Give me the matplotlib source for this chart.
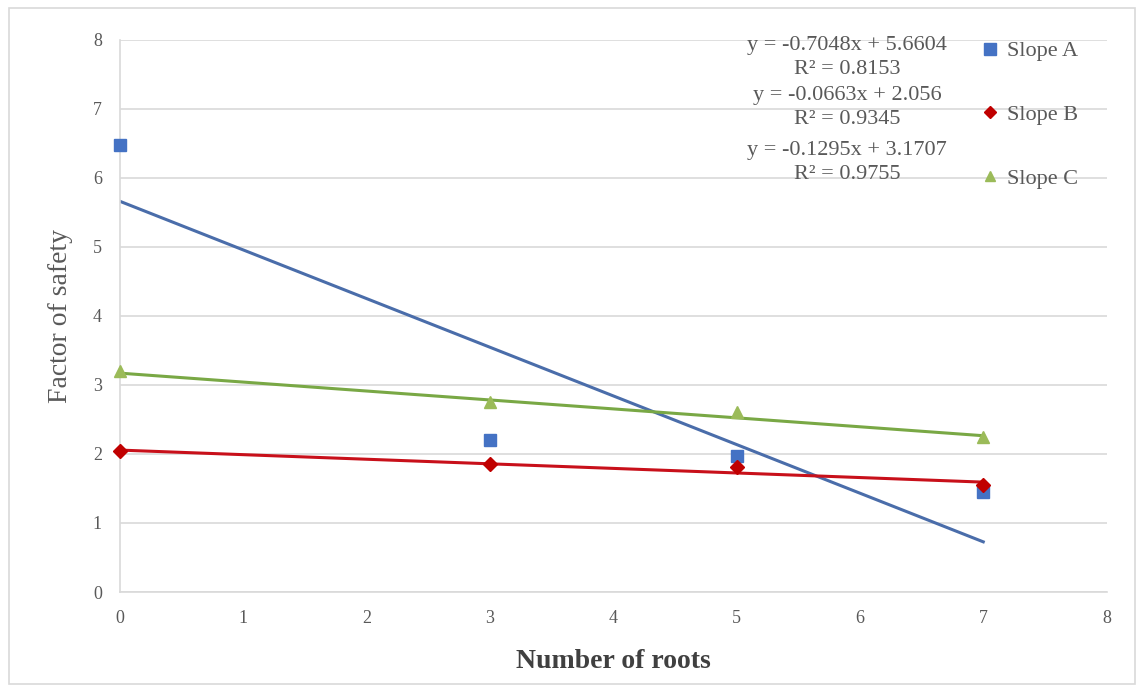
import numpy as np
import matplotlib.pyplot as plt

# Factor of safety vs number of roots, three slopes with linear trendlines

roots = [0, 3, 5, 7]
slope_a = [6.48, 2.20, 1.97, 1.45]
slope_b = [2.05, 1.85, 1.81, 1.55]
slope_c = [3.20, 2.75, 2.61, 2.24]

names = ["Slope A", "Slope B", "Slope C"]
fit_m = [-0.7048, -0.0663, -0.1295]
fit_b = [5.6604, 2.056, 3.1707]
fit_r2 = [0.8153, 0.9345, 0.9755]

marker_colors = ["#4472C4", "#C00000", "#9BBB59"]
line_colors = ["#4A6DAA", "#C8101A", "#79A845"]
markers = ["s", "D", "^"]
msizes = [9, 7, 8]

serif = ["Liberation Serif", "DejaVu Serif"]
plt.rcParams["font.family"] = serif

fig = plt.figure(figsize=(11.42, 6.92), dpi=100)
ax = fig.add_axes([0.105, 0.1445, 0.864, 0.798])

# outer chart frame
fig.patches.append(plt.Rectangle((0.008, 0.012), 0.986, 0.976, transform=fig.transFigure,
                                 fill=False, edgecolor="#D9D9D9", linewidth=1.2))

handles = []
for ys, c, lc, mk, ms, m, b, name in zip([slope_a, slope_b, slope_c], marker_colors, line_colors,
                                         markers, msizes, fit_m, fit_b, names):
    xs = np.array([roots[0], roots[-1]])
    ax.plot(xs, m * xs + b, color=lc, linewidth=2.2, zorder=2)
    h, = ax.plot(roots, ys, linestyle="none", marker=mk, markersize=ms, color=c,
                 markeredgecolor=c, zorder=3, label=name, clip_on=False)
    handles.append(h)

ax.set_xlim(0, 8)
ax.set_ylim(0, 8)
ax.set_xticks(range(0, 9))
ax.set_yticks(range(0, 9))
ax.grid(axis="y", color="#D9D9D9", linewidth=1.2)
ax.set_axisbelow(True)
for s in ["top", "right"]:
    ax.spines[s].set_visible(False)
for s in ["left", "bottom"]:
    ax.spines[s].set_color("#D9D9D9")
    ax.spines[s].set_linewidth(1.2)
ax.tick_params(length=0, labelsize=13, colors="#595959", pad=13)

ax.set_xlabel("Number of roots", fontsize=20, fontweight="bold", color="#404040", labelpad=16)
ax.set_ylabel("Factor of safety", fontsize=20, color="#595959", labelpad=14)

# trendline equations
eq_y = [0.917, 0.845, 0.765]
for m, b, r2, yy in zip(fit_m, fit_b, fit_r2, eq_y):
    fig.text(0.742, yy, f"y = {m}x + {b}\nR² = {r2}", ha="center", va="center",
             fontsize=16, color="#595959", linespacing=1.35)

leg = fig.legend(handles=handles, loc="upper left", bbox_to_anchor=(0.842, 0.97),
                 frameon=False, fontsize=16, labelspacing=1.95, handletextpad=0.35,
                 handlelength=0.8, markerscale=0.9)
for t in leg.get_texts():
    t.set_color("#595959")

fig.savefig("out.png", dpi=100)
